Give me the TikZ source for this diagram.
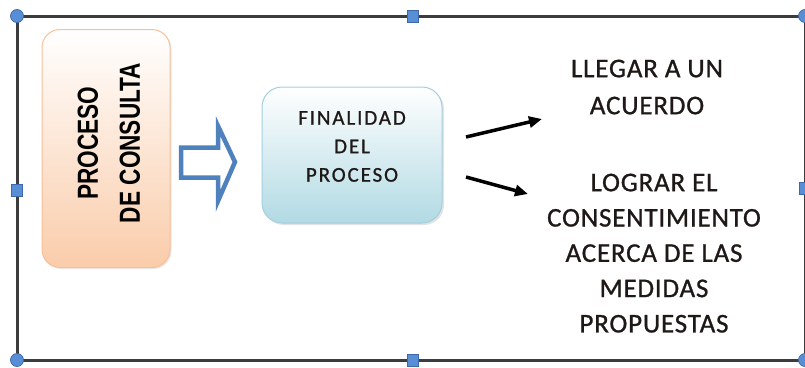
\documentclass[tikz,border=0pt]{standalone}
\usepackage{fontspec}
\setmainfont{Carlito}
\newfontfamily\goalf[FakeBold=0.9]{Carlito}
\newfontfamily\condf[FakeStretch=0.78]{Liberation Sans}
\usetikzlibrary{arrows.meta,shadows}
\definecolor{frameclr}{RGB}{60,60,60}
\definecolor{handlefill}{RGB}{88,142,214}
\definecolor{handledraw}{RGB}{62,104,172}
\definecolor{orangefill}{RGB}{250,204,170}
\definecolor{orangeline}{RGB}{247,192,152}
\definecolor{bluefill}{RGB}{178,218,228}
\definecolor{blueline}{RGB}{162,206,222}
\definecolor{arrowblue}{RGB}{79,129,189}
\definecolor{textdark}{RGB}{30,24,22}
\begin{document}
\begin{tikzpicture}[x=1pt,y=-1pt,
  frameline/.style={draw=frameclr, line width=3pt},
  roundhandle/.style={circle, minimum size=13pt, inner sep=0pt, fill=handlefill, draw=handledraw, line width=0.7pt},
  squarehandle/.style={rectangle, minimum width=11pt, minimum height=12pt, inner sep=0pt, fill=handlefill, draw=handledraw, line width=0.7pt},
  orangebox/.style={rectangle, rounded corners=18pt, minimum width=128pt, minimum height=238pt, inner sep=0pt,
     top color=white, bottom color=orangefill, draw=orangeline, line width=1pt,
     drop shadow={opacity=0.18, shadow xshift=1.5pt, shadow yshift=-1.5pt}},
  bluebox/.style={rectangle, rounded corners=20pt, minimum width=180pt, minimum height=136pt, inner sep=0pt,
     top color=white, bottom color=bluefill, draw=blueline, line width=1pt,
     drop shadow={opacity=0.22, shadow xshift=2pt, shadow yshift=-2pt}},
  proctext/.style={rotate=90, align=center, inner sep=0pt, text=black,
     font=\condf\bfseries\fontsize{29}{42}\selectfont},
  fintext/.style={align=center, inner sep=0pt, text=textdark,
     font=\goalf\fontsize{21}{28.5}\selectfont\addfontfeature{LetterSpace=9}},
  goaltext/.style={align=center, inner sep=0pt, text=textdark,
     font=\goalf\fontsize{27}{#1}\selectfont\addfontfeature{LetterSpace=3}},
  blockarrow/.style={draw=arrowblue, fill=white, line width=4.5pt, line join=miter},
  goalarrow/.style={draw=black, line width=3.5pt, -{Triangle[length=13pt,width=11pt]}}
]
\useasboundingbox (0,0) rectangle (805,367);

% frame
\coordinate (ctl) at (17,16);
\coordinate (ctm) at (413,16);
\coordinate (ctr) at (805,16);
\coordinate (cml) at (17,190);
\coordinate (cmr) at (805,188);
\coordinate (cbl) at (17,360);
\coordinate (cbm) at (413,360);
\coordinate (cbr) at (805,360);
\draw[frameline] (ctl) -- (ctr) -- (cbr) -- (cbl) -- cycle;

% orange box
\node[orangebox] (proc) at (106,148.5) {};
\node[proctext] (proct) at (109,143) {PROCESO\\DE CONSULTA};

% block arrow
\draw[blockarrow] (181,147.5) -- (218,147.5) -- (218,126) -- (235,162) -- (218,201) -- (218,177.5) -- (181,177.5) -- cycle;

% blue box
\node[bluebox] (fin) at (352,155) {};
\node[fintext] (fint) at (352,146.5) {FINALIDAD\\DEL\\PROCESO};

% goals
\node[goaltext=37, anchor=north] (g1) at (647,59.5) {LLEGAR A UN\\ACUERDO};
\node[goaltext=35.3, anchor=north] (g2) at (654,173.5) {LOGRAR EL\\CONSENTIMIENTO\\ACERCA DE LAS\\MEDIDAS\\PROPUESTAS};

% arrows
\coordinate (a1s) at (466,137);
\coordinate (a1e) at (542,119);
\coordinate (a2s) at (466,177);
\coordinate (a2e) at (528,194);
\draw[goalarrow] (a1s) -- (a1e);
\draw[goalarrow] (a2s) -- (a2e);

% handles
\node[roundhandle] (htl) at (ctl) {};
\node[roundhandle] (htr) at (ctr) {};
\node[roundhandle] (hbl) at (cbl) {};
\node[roundhandle] (hbr) at (cbr) {};
\node[squarehandle] (htm) at (ctm) {};
\node[squarehandle] (hbm) at (cbm) {};
\node[squarehandle] (hml) at (cml) {};
\node[squarehandle] (hmr) at (cmr) {};
\end{tikzpicture}
\end{document}
